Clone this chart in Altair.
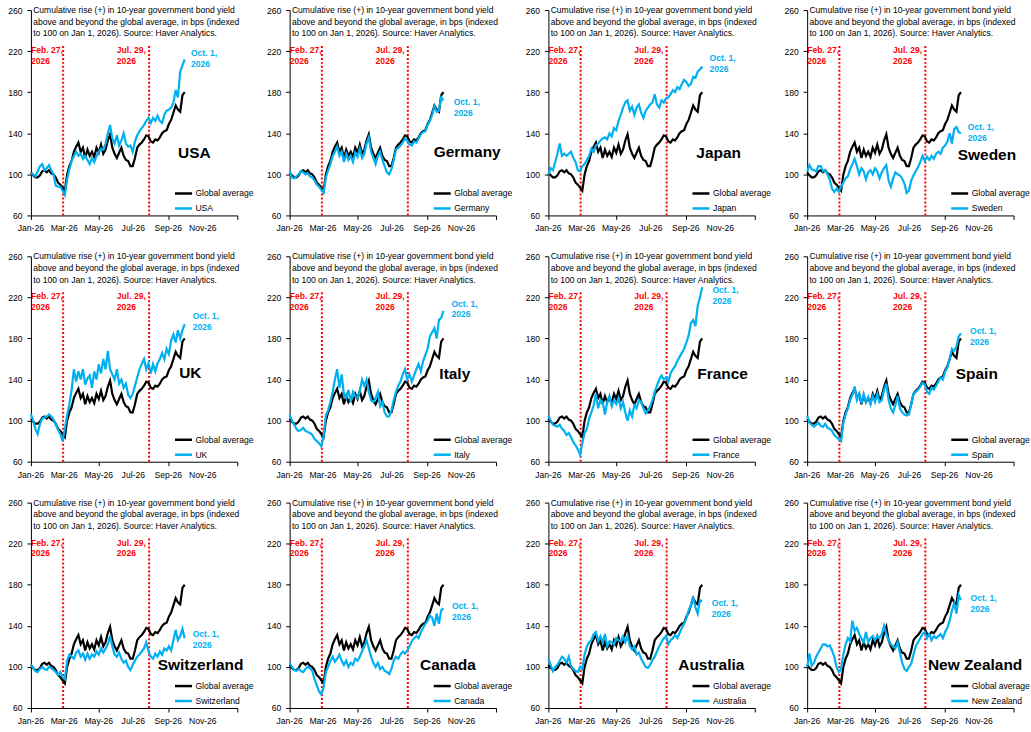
import altair as alt
import pandas as pd

# ---------------- data ----------------
dates = pd.date_range("2026-01-01", "2026-09-30", freq="4D")

global_avg = [102, 99, 97, 97, 99, 103, 104, 102, 104, 101,
              100, 97, 92, 90, 87, 84, 100, 108, 113, 122,
              127, 131, 122, 126, 116, 124, 118, 122, 117, 126,
              121, 129, 120, 124, 133, 139, 126, 120, 116, 121,
              126, 118, 114, 113, 108, 108, 116, 126, 129, 131,
              134, 138, 137, 132, 131, 134, 133, 136, 140, 142,
              143, 149, 153, 160, 167, 163, 161, 177, 180]

usa = [101, 100, 98, 103, 108, 110, 104, 106, 109, 104,
       100, 89, 88, 88, 84, 80, 95, 105, 113, 118,
       122, 118, 120, 115, 118, 114, 110, 116, 112, 118,
       122, 125, 124, 130, 140, 148, 135, 130, 138, 128,
       133, 140, 130, 127, 128, 122, 132, 138, 142, 145,
       148, 152, 155, 150, 155, 152, 157, 152, 150, 158,
       162, 163, 165, 170, 182, 175, 200, 206, 212]

germany = [103, 97, 96, 98, 100, 103, 102, 100, 101, 98,
           97, 94, 90, 88, 85, 82, 97, 104, 110, 118,
           122, 127, 118, 122, 112, 120, 114, 118, 112, 121,
           117, 125, 116, 120, 130, 136, 122, 116, 110, 118,
           122, 114, 108, 102, 100, 105, 114, 124, 126, 128,
           131, 135, 133, 129, 128, 132, 131, 135, 139, 141,
           142, 148, 152, 158, 166, 161, 162, 175, 172]

japan = [100, 106, 104, 112, 120, 130, 118, 120, 118, 120,
         122, 116, 112, 104, 103, 108, 110, 114, 118, 125,
         122, 128, 130, 133, 135, 136, 134, 140, 137, 145,
         143, 152, 158, 165, 170, 172, 162, 166, 158, 165,
         168, 160, 155, 162, 165, 168, 170, 178, 168, 165,
         172, 170, 174, 175, 178, 182, 180, 185, 183, 188,
         192, 190, 186, 188, 195, 194, 200, 202, 205]

sweden = [103, 109, 105, 104, 103, 108, 108, 103, 104, 100,
          95, 86, 83, 86, 83, 88, 92, 96, 98, 105,
          110, 115, 108, 100, 106, 103, 95, 102, 104, 100,
          106, 103, 96, 102, 106, 109, 94, 88, 96, 102,
          100, 99, 96, 91, 82, 84, 94, 99, 103, 107,
          112, 118, 113, 117, 114, 118, 115, 120, 122, 120,
          126, 128, 132, 140, 130, 144, 146, 141, 140]

uk = [106, 100, 92, 87, 97, 102, 103, 104, 106, 104,
      101, 96, 91, 87, 80, 92, 105, 116, 130, 150,
      138, 148, 140, 150, 135, 141, 144, 132, 148, 140,
      155, 146, 160, 150, 168, 150, 145, 140, 150, 136,
      140, 132, 136, 125, 122, 126, 134, 142, 150, 155,
      160, 150, 156, 146, 155, 148, 156, 160, 166, 160,
      170, 165, 178, 184, 176, 188, 180, 188, 194]

italy = [106, 100, 96, 92, 90, 91, 93, 90, 89, 88,
         86, 82, 80, 78, 75, 85, 105, 110, 118, 128,
         140, 150, 132, 145, 125, 122, 130, 118, 128, 124,
         122, 128, 140, 134, 140, 128, 120, 118, 122, 128,
         114, 118, 108, 104, 104, 110, 120, 128, 134, 138,
         145, 150, 140, 145, 138, 144, 150, 155, 148, 158,
         164, 170, 182, 186, 190, 180, 198, 200, 207]

france = [105, 100, 96, 95, 94, 96, 92, 90, 86, 88,
          84, 79, 76, 72, 67, 78, 88, 92, 102, 108,
          115, 126, 112, 120, 118, 106, 118, 124, 114, 120,
          116, 122, 112, 118, 108, 100, 110, 104, 115, 112,
          120, 118, 112, 107, 110, 114, 120, 128, 134, 140,
          144, 140, 142, 138, 146, 150, 153, 158, 162, 166,
          170, 176, 183, 195, 198, 192, 212, 220, 230]

spain = [105, 98, 96, 94, 96, 98, 95, 94, 97, 93,
         92, 90, 86, 84, 82, 80, 98, 106, 112, 120,
         125, 133, 120, 126, 117, 126, 118, 123, 116, 124,
         118, 126, 118, 120, 130, 136, 120, 112, 108, 115,
         124, 112, 108, 106, 105, 106, 116, 126, 128, 130,
         133, 137, 135, 128, 126, 132, 130, 134, 138, 142,
         140, 148, 152, 160, 170, 168, 172, 182, 185]

switzerland = [102, 99, 96, 95, 98, 100, 98, 97, 100, 99,
               97, 95, 92, 95, 90, 88, 106, 112, 110, 108,
               114, 116, 110, 113, 107, 113, 108, 112, 110, 115,
               112, 118, 114, 118, 122, 130, 120, 112, 110, 114,
               108, 104, 106, 100, 97, 102, 106, 110, 112, 115,
               118, 124, 115, 110, 108, 113, 110, 115, 112, 118,
               116, 120, 116, 126, 136, 126, 130, 137, 128]

canada = [104, 100, 97, 96, 98, 96, 95, 98, 100, 99,
          96, 88, 82, 76, 73, 80, 95, 100, 106, 110,
          105, 108, 112, 106, 102, 106, 100, 104, 102, 108,
          106, 110, 115, 120, 126, 118, 110, 104, 100, 104,
          98, 100, 96, 95, 93, 98, 106, 110, 108, 112,
          115, 113, 116, 120, 125, 128, 130, 128, 134, 138,
          142, 145, 150, 148, 140, 152, 142, 155, 157]

australia = [108, 102, 96, 100, 102, 106, 110, 108, 104, 110,
             101, 98, 96, 95, 100, 98, 112, 120, 124, 126,
             132, 134, 125, 130, 124, 132, 120, 125, 124, 122,
             128, 126, 125, 130, 124, 130, 120, 117, 120, 112,
             114, 108, 104, 100, 99, 102, 107, 110, 115, 120,
             124, 128, 130, 122, 126, 128, 131, 128, 133, 138,
             142, 148, 155, 160, 168, 158, 152, 165, 164]

new_zealand = [100, 113, 101, 104, 110, 114, 118, 122, 122, 120,
               121, 116, 110, 100, 95, 98, 112, 122, 128, 125,
               145, 135, 138, 132, 128, 124, 134, 124, 128, 130,
               126, 130, 128, 132, 140, 132, 126, 122, 120, 118,
               124, 114, 104, 98, 96, 100, 103, 112, 120, 124,
               128, 132, 134, 128, 132, 126, 130, 128, 130, 132,
               128, 134, 138, 145, 155, 162, 152, 170, 165]

countries = ["USA", "Germany", "Japan", "Sweden",
             "UK", "Italy", "France", "Spain",
             "Switzerland", "Canada", "Australia", "New Zealand"]
series = [usa, germany, japan, sweden, uk, italy, france, spain,
          switzerland, canada, australia, new_zealand]

tick_dates = ["2026-01-01", "2026-03-01", "2026-05-01", "2026-07-01",
              "2026-09-01", "2026-11-01"]
tick_labels = ["Jan-26", "Mar-26", "May-26", "Jul-26", "Sep-26", "Nov-26"]

note_lines = ["Cumulative rise (+) in 10-year government bond yield",
              "above and beyond the global average, in bps (indexed",
              "to 100 on Jan 1, 2026). Source: Haver Analytics."]
events = ["2026-02-27", "2026-07-29"]
event_labels = [["Feb. 27,", "2026"], ["Jul. 29,", "2026"]]
end_label = ["Oct. 1,", "2026"]

# ---------------- layout of annotations (date, value) ----------------
oct_pos = {"USA": ("2026-10-11", 218), "Germany": ("2026-10-18", 170.5),
           "Japan": ("2026-10-13", 213), "Sweden": ("2026-10-12", 146),
           "UK": ("2026-10-14", 201.7), "Italy": ("2026-10-14", 214),
           "France": ("2026-10-18", 227), "Spain": ("2026-10-16", 187),
           "Switzerland": ("2026-10-14", 131.6), "Canada": ("2026-10-15", 159),
           "Australia": ("2026-10-17", 162), "New Zealand": ("2026-10-17", 167)}
name_pos = {"USA": ("2026-10-17", 121), "Germany": ("2026-11-11", 122),
            "Japan": ("2026-10-29", 121), "Sweden": ("2026-11-15", 118.6),
            "UK": ("2026-10-10", 146.6), "Italy": ("2026-10-20", 145.6),
            "France": ("2026-11-05", 145.6), "Spain": ("2026-10-28", 145.6),
            "Switzerland": ("2026-10-28", 101.6), "Canada": ("2026-10-08", 101.6),
            "Australia": ("2026-10-16", 101.6), "New Zealand": ("2026-10-25", 101.6)}

FONT = "Liberation Sans"
FS = 8.6
BLUE = "#00B0F0"
RED = "#FF0000"

x_ticks = [alt.DateTime(year=2026, month=m, date=1) for m in (1, 3, 5, 7, 9, 11)] + \
          [alt.DateTime(year=2027, month=1, date=1)]
x_scale = alt.Scale(domain=[alt.DateTime(year=2026, month=1, date=1),
                            alt.DateTime(year=2027, month=1, date=1)])
y_scale = alt.Scale(domain=[60, 260], nice=False, zero=False)


def text_lines(lines, date, y0, step, **kw):
    df = pd.DataFrame({"date": [pd.Timestamp(date)] * len(lines),
                       "y": [y0 - i * step for i in range(len(lines))],
                       "t": lines})
    return alt.Chart(df).mark_text(**kw).encode(
        x=alt.X("date:T", scale=x_scale),
        y=alt.Y("y:Q", scale=y_scale),
        text="t:N")


def panel(name, vals):
    n = len(dates)
    df = pd.DataFrame({"date": list(dates) * 2,
                       "series": ["Global average"] * n + [name] * n,
                       "value": global_avg + vals})
    color = alt.Color(
        "series:N",
        scale=alt.Scale(domain=["Global average", name], range=["#000000", BLUE]),
        legend=alt.Legend(title=None, orient="none", legendX=143, legendY=174,
                          direction="vertical", symbolType="stroke", symbolSize=289,
                          symbolStrokeWidth=2.5, labelFont=FONT, labelFontSize=FS,
                          labelColor="#000000", labelOffset=2, rowPadding=-2, padding=0))
    x = alt.X("date:T", scale=x_scale, title=None,
              axis=alt.Axis(values=x_ticks, labels=False))
    y = alt.Y("value:Q", scale=y_scale, title=None,
              axis=alt.Axis(values=list(range(60, 261, 20)), labelPadding=5))
    base = alt.Chart(df)
    black = base.transform_filter(alt.datum.series == "Global average").mark_line(
        strokeWidth=2.2).encode(x=x, y=y, color=color)
    blue = base.transform_filter(alt.datum.series == name).mark_line(
        strokeWidth=2.2).encode(x=x, y=y, color=color)

    ev = pd.DataFrame({"date": pd.to_datetime(events)})
    rules = alt.Chart(ev).mark_rule(color=RED, strokeWidth=2, strokeDash=[2, 2]).encode(
        x=alt.X("date:T", scale=x_scale), y=alt.datum(60), y2=alt.datum(227))

    ticks_df = pd.DataFrame({"date": pd.to_datetime(tick_dates), "t": tick_labels})
    xlabels = alt.Chart(ticks_df).mark_text(
        font=FONT, fontSize=FS, color="#000000", baseline="middle", dy=13).encode(
        x=alt.X("date:T", scale=x_scale), y=alt.datum(60), text="t:N")

    layers = [rules, black, blue, xlabels]
    layers.append(text_lines(note_lines, "2026-01-05", 260, 11.4, align="left",
                             baseline="middle", font=FONT, fontSize=FS, color="#000000"))
    layers.append(text_lines(event_labels[0], "2026-01-01", 221, 10.5, align="left",
                             baseline="middle", font=FONT, fontSize=FS, fontWeight="bold",
                             color=RED))
    layers.append(text_lines(event_labels[1], "2026-06-02", 221, 10.5, align="left",
                             baseline="middle", font=FONT, fontSize=FS, fontWeight="bold",
                             color=RED))
    od, oy = oct_pos[name]
    layers.append(text_lines(end_label, od, oy, 10.5, align="left", baseline="middle",
                             font=FONT, fontSize=FS, fontWeight="bold", color=BLUE))
    nd, ny = name_pos[name]
    layers.append(text_lines([name], nd, ny, 0, align="center", baseline="middle",
                             font=FONT, fontSize=15.5, fontWeight="bold",
                             color="#000000"))
    return alt.layer(*layers).properties(width=207, height=206)


panels = [panel(countries[i], series[i]) for i in range(12)]

chart = alt.concat(*panels, columns=4, spacing={"row": 41, "column": 52.5},
                   bounds="flush").resolve_scale(
    color="independent"
).configure_view(stroke=None).configure_axis(
    grid=False, domainColor="#000000", tickColor="#000000", labelColor="#000000",
    labelFont=FONT, labelFontSize=FS, tickSize=4, domainWidth=1, tickWidth=1
).properties(padding={"left": 7, "top": 5, "right": 0, "bottom": 0})

chart.save("out.html", embed_options={"renderer": "svg", "actions": False})
